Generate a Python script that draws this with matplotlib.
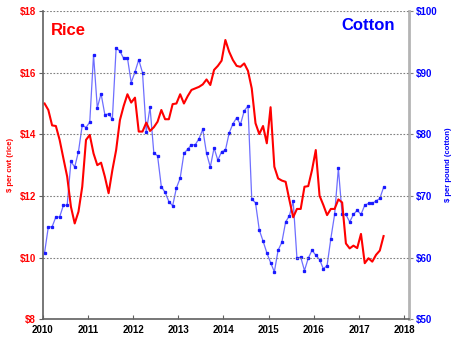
import numpy as np
import matplotlib
matplotlib.use("Agg")
import matplotlib.pyplot as plt

# Monthly prices, January 2010 through July 2017
years = [2010, 2011, 2012, 2013, 2014, 2015, 2016, 2017]
n_months = 91

rice = [
    15.00, 14.79, 14.29, 14.27, 13.82, 13.22, 12.63, 11.65, 11.11, 11.49, 12.30, 13.82,
    13.98, 13.38, 13.00, 13.08, 12.63, 12.09, 12.84, 13.49, 14.46, 14.92, 15.30, 15.03,
    15.19, 14.09, 14.09, 14.38, 14.11, 14.23, 14.41, 14.79, 14.49, 14.49, 14.98, 15.00,
    15.30, 15.00, 15.24, 15.44, 15.49, 15.54, 15.62, 15.78, 15.60, 16.09, 16.22, 16.39,
    17.06, 16.68, 16.41, 16.22, 16.19, 16.30, 16.06, 15.49, 14.36, 14.01, 14.27, 13.71,
    14.88, 12.95, 12.57, 12.50, 12.46, 11.87, 11.31, 11.58, 11.58, 12.30, 12.32, 12.84,
    13.49, 12.01, 11.71, 11.38, 11.58, 11.58, 11.89, 11.79, 10.46, 10.30, 10.39, 10.31,
    10.77, 9.82, 9.98, 9.87, 10.09, 10.23, 10.70,
]

cotton = [
    60.8, 65.0, 65.0, 66.6, 66.6, 68.5, 68.5, 75.6, 74.7, 77.2, 81.5, 81.1,
    82.0, 92.9, 84.3, 86.6, 83.2, 83.3, 82.5, 94.0, 93.5, 92.3, 92.4, 88.4,
    90.1, 92.1, 90.0, 80.4, 84.4, 77.0, 76.5, 71.5, 70.6, 69.1, 68.4, 71.3,
    72.9, 76.9, 77.6, 78.3, 78.3, 79.3, 80.8, 76.9, 74.7, 77.8, 75.8, 77.2,
    77.4, 80.2, 81.7, 82.7, 81.6, 83.8, 84.6, 69.5, 68.9, 64.5, 62.7, 60.8,
    59.2, 57.7, 61.2, 62.5, 65.8, 66.8, 69.2, 59.9, 60.1, 57.9, 59.9, 61.2,
    60.4, 59.7, 58.2, 58.7, 63.1, 67.0, 74.5, 67.0, 67.0, 65.8, 67.0, 67.7,
    67.0, 68.5, 68.8, 68.8, 69.2, 69.6, 71.4,
]

rice_ticks = [8, 10, 12, 14, 16, 18]
cotton_ticks = [50, 60, 70, 80, 90, 100]

# mid-month positions as decimal years
t = 2010 + (np.arange(n_months) + 0.5) / 12

plt.rcParams['font.family'] = ['Liberation Sans', 'DejaVu Sans']

fig = plt.figure(figsize=(4.58, 3.41), dpi=100)
ax = fig.add_axes([0.0932, 0.0636, 0.7998, 0.9041])
ax2 = ax.twinx()

red = '#ff0000'
blue = '#0000ff'

# cotton on the right axis, drawn underneath rice
ax2.plot(t, cotton, color='#6e6eff', linewidth=0.9, marker='s', markersize=1.4,
         markerfacecolor='#1a1aff', markeredgecolor='#1a1aff')
ax2.set_ylim(50, 100)
ax2.set_yticks(cotton_ticks)
ax2.set_yticklabels(['$%d' % v for v in cotton_ticks])

ax.plot(t, rice, color=red, linewidth=1.5)
ax.set_ylim(8, 18)
ax.set_yticks(rice_ticks)
ax.set_yticklabels(['$%d' % v for v in rice_ticks])
ax.set_xlim(2010, 2018.104)
ax.set_xticks(years + [2018])

ax.set_zorder(ax2.get_zorder() + 1)
ax.patch.set_visible(False)

ax.grid(axis='y', linestyle=(0, (1.5, 1.5)), color='#808080', linewidth=0.8)
ax.set_axisbelow(True)

for a in (ax, ax2):
    a.spines['top'].set_visible(False)
ax.spines['right'].set_visible(False)
ax2.spines['left'].set_visible(False)
ax2.spines['bottom'].set_visible(False)
ax.spines['left'].set_color('#606060')
ax.spines['left'].set_linewidth(1.2)
ax.spines['bottom'].set_color('#606060')
ax.spines['bottom'].set_linewidth(1.2)
ax2.spines['right'].set_color('#b4b4b4')
ax2.spines['right'].set_linewidth(2)

ax.tick_params(axis='y', colors=red, labelsize=7, length=3, width=0.8, pad=2)
ax.tick_params(axis='y', color='#606060')
ax.tick_params(axis='x', direction='in', length=3, width=0.8, color='#606060',
               labelsize=7, pad=4)
ax2.tick_params(axis='y', colors=blue, labelsize=7, length=3, width=0.8, pad=2)
ax2.tick_params(axis='y', color='#808080')

for lab in ax.get_yticklabels() + ax.get_xticklabels() + ax2.get_yticklabels():
    lab.set_fontweight('bold')

ax.set_ylabel('$ per cwt (rice)', color=red, fontsize=5.5, fontweight='bold', labelpad=4)
ax2.set_ylabel('$ per pound (cotton)', color=blue, fontsize=5.5, fontweight='bold', labelpad=5)

ax.text(0.023, 0.938, 'Rice', transform=ax.transAxes, color=red, fontsize=12,
        fontweight='bold', va='center', ha='left')
ax.text(0.962, 0.953, 'Cotton', transform=ax.transAxes, color=blue, fontsize=12,
        fontweight='bold', va='center', ha='right')

fig.savefig('out.png', dpi=100)
